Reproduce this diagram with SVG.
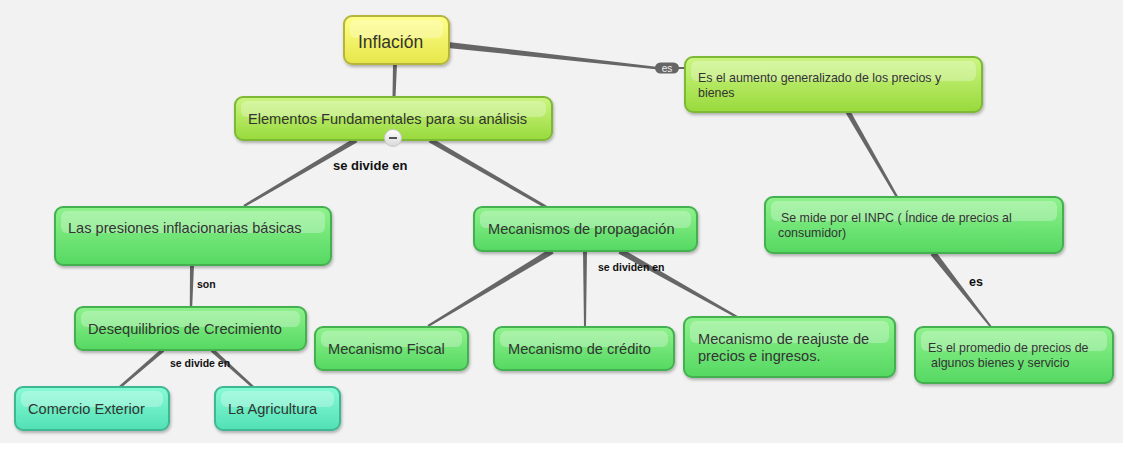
<svg xmlns="http://www.w3.org/2000/svg" width="1125" height="466" viewBox="0 0 1125 466">
<defs>
<linearGradient id="gY" x1="0" y1="0" x2="0" y2="1"><stop offset="0" stop-color="#ffff8c"/><stop offset="1" stop-color="#e6e64a"/></linearGradient>
<linearGradient id="gL" x1="0" y1="0" x2="0" y2="1"><stop offset="0" stop-color="#ccf582"/><stop offset="1" stop-color="#98da3c"/></linearGradient>
<linearGradient id="gG" x1="0" y1="0" x2="0" y2="1"><stop offset="0" stop-color="#8ff28c"/><stop offset="1" stop-color="#55d862"/></linearGradient>
<linearGradient id="gT" x1="0" y1="0" x2="0" y2="1"><stop offset="0" stop-color="#88fbd6"/><stop offset="1" stop-color="#52e0b4"/></linearGradient>
<linearGradient id="gB" x1="0" y1="0" x2="0" y2="1"><stop offset="0" stop-color="#ffffff"/><stop offset="1" stop-color="#d8d8d8"/></linearGradient>
<filter id="sh" x="-10%" y="-10%" width="120%" height="130%"><feDropShadow dx="1" dy="2" stdDeviation="1.5" flood-color="#000" flood-opacity="0.28"/></filter>
</defs>
<style>
.box{stroke-width:2;filter:url(#sh)}
.y{fill:url(#gY);stroke:#b5b53c}
.l{fill:url(#gL);stroke:#7db936}
.g{fill:url(#gG);stroke:#45b050}
.t{fill:url(#gT);stroke:#3cb892}
.hl{fill:#fff;opacity:0.28}
.tx{font-family:"Liberation Sans",Arial,sans-serif;fill:#333;font-size:14.6px}
.sm{font-size:12.4px}
.big{font-size:17.5px}
.lb{font-family:"Liberation Sans",Arial,sans-serif;font-weight:bold;fill:#111}
.c{fill:#666}
</style>
<rect x="0" y="0" width="1125" height="466" fill="#ffffff"/>
<rect x="0" y="0" width="1123" height="443" fill="#f2f2f2"/>

<g id="connectors">
<path class="c" d="M393,64 L397,64 L395.5,97 L392.5,97 Z"/>
<path class="c" d="M448.3,42 L656.1,66.8 L655.9,69.2 L447.7,48 Z"/>
<line x1="676" y1="68" x2="686" y2="68" stroke="#666" stroke-width="2"/>
<rect x="655" y="62.5" width="24" height="11" rx="5.5" fill="#666"/>
<text x="667" y="71.5" text-anchor="middle" font-family="Liberation Sans, Arial, sans-serif" font-size="10" fill="#eee">es</text>
<path class="c" d="M357.3,142.2 L354.7,137.8 L243.4,204.9 L244.6,207.1 Z"/>
<path class="c" d="M428.75,142.17 L431.25,137.83 L546.75,205.7 L545.25,208.3 Z"/>
<path class="c" d="M845.83,113.25 L850.17,110.75 L898.1,196.4 L895.9,197.6 Z"/>
<path class="c" d="M930.6,254.9 L935.4,251.1 L991.8,326.4 L990.2,327.6 Z"/>
<path class="c" d="M190,265 L194,265 L192.2,307 L189.8,307 Z"/>
<path class="c" d="M164.3,351.5 L161.7,348.5 L119.2,386 L120.8,388 Z"/>
<path class="c" d="M210.7,351.5 L213.3,348.5 L253.8,386.1 L252.2,387.9 Z"/>
<path class="c" d="M553.6,253.6 L550.4,248.4 L427.5,325.1 L428.5,326.9 Z"/>
<path class="c" d="M583,251 L587,251 L586,327 L584,327 Z"/>
<path class="c" d="M618.5,253.6 L621.5,248.4 L737.6,315.9 L736.4,318.1 Z"/>
<text class="lb" x="333" y="170" font-size="13">se divide en</text>
<text class="lb" x="197" y="288" font-size="10.5">son</text>
<text class="lb" x="170" y="367" font-size="10.5">se divide en</text>
<text class="lb" x="598" y="271" font-size="10.5">se dividen en</text>
<text class="lb" x="969" y="286" font-size="12.5">es</text>
</g>

<g id="n-inflacion">
<rect class="box y" x="344" y="16" width="105" height="48" rx="8"/>
<rect class="hl" x="350" y="20" width="93" height="18" rx="6"/>
<text class="tx big" x="358" y="48">Inflación</text>
</g>

<g id="n-elementos">
<rect class="box l" x="235" y="97" width="317" height="43" rx="8"/>
<rect class="hl" x="241" y="101" width="305" height="16" rx="6"/>
<text class="tx" x="248" y="124">Elementos Fundamentales para su análisis</text>
<circle cx="393" cy="138" r="8.5" fill="url(#gB)" stroke="#c8c8c8"/>
<line x1="389" y1="138" x2="397" y2="138" stroke="#555" stroke-width="2"/>
</g>

<g id="n-aumento">
<rect class="box l" x="685" y="57" width="297" height="55" rx="8"/>
<rect class="hl" x="691" y="61" width="285" height="20" rx="6"/>
<text class="tx sm" x="698" y="82">Es el aumento generalizado de los precios y</text>
<text class="tx sm" x="698" y="97">bienes</text>
</g>

<g id="n-presiones">
<rect class="box g" x="55" y="207" width="276" height="58" rx="8"/>
<rect class="hl" x="61" y="211" width="264" height="22" rx="6"/>
<text class="tx" x="68" y="233">Las presiones inflacionarias básicas</text>
</g>

<g id="n-mecanismos">
<rect class="box g" x="474" y="207" width="223" height="44" rx="8"/>
<rect class="hl" x="480" y="211" width="211" height="17" rx="6"/>
<text class="tx" x="488" y="234">Mecanismos de propagación</text>
</g>

<g id="n-semide">
<rect class="box g" x="765" y="197" width="298" height="56" rx="8"/>
<rect class="hl" x="771" y="201" width="286" height="20" rx="6"/>
<text class="tx sm" x="781" y="222"> Se mide por el INPC ( Índice de precios al</text>
<text class="tx sm" x="778" y="237">consumidor)</text>
</g>

<g id="n-desequilibrios">
<rect class="box g" x="75" y="307" width="231" height="43" rx="8"/>
<rect class="hl" x="81" y="311" width="219" height="16" rx="6"/>
<text class="tx" x="88" y="334">Desequilibrios de Crecimiento</text>
</g>

<g id="n-fiscal">
<rect class="box g" x="315" y="327" width="153" height="43" rx="8"/>
<rect class="hl" x="321" y="331" width="141" height="16" rx="6"/>
<text class="tx" x="328" y="354">Mecanismo Fiscal</text>
</g>

<g id="n-credito">
<rect class="box g" x="494" y="327" width="180" height="43" rx="8"/>
<rect class="hl" x="500" y="331" width="168" height="16" rx="6"/>
<text class="tx" x="508" y="354">Mecanismo de crédito</text>
</g>

<g id="n-reajuste">
<rect class="box g" x="684" y="317" width="211" height="60" rx="8"/>
<rect class="hl" x="690" y="321" width="199" height="22" rx="6"/>
<text class="tx" x="698" y="344">Mecanismo de reajuste de</text>
<text class="tx" x="698" y="361">precios e ingresos.</text>
</g>

<g id="n-promedio">
<rect class="box g" x="915" y="327" width="198" height="56" rx="8"/>
<rect class="hl" x="921" y="331" width="186" height="20" rx="6"/>
<text class="tx sm" x="928" y="352">Es el promedio de precios de</text>
<text class="tx sm" x="931" y="367">algunos bienes y servicio</text>
</g>

<g id="n-comercio">
<rect class="box t" x="15" y="387" width="154" height="43" rx="8"/>
<rect class="hl" x="21" y="391" width="142" height="16" rx="6"/>
<text class="tx" x="28" y="414">Comercio Exterior</text>
</g>

<g id="n-agricultura">
<rect class="box t" x="215" y="387" width="125" height="43" rx="8"/>
<rect class="hl" x="221" y="391" width="113" height="16" rx="6"/>
<text class="tx" x="228" y="414">La Agricultura</text>
</g>
</svg>
